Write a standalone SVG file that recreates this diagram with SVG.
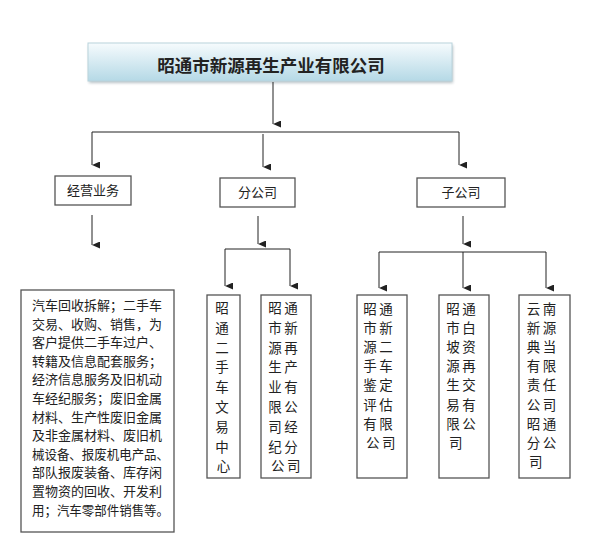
<svg xmlns="http://www.w3.org/2000/svg" width="594" height="542" viewBox="0 0 594 542">
<style>
.box{fill:#fff;stroke:#555;stroke-width:1.3}
.t{font-family:"Noto Sans CJK SC","Noto Sans",sans-serif;fill:#222}
.s13{font-size:13px}
.v{font-size:13.5px;text-anchor:middle}
.c{stroke:#222;stroke-width:1;fill:none}
</style>
<defs>
<linearGradient id="g" x1="0" y1="0" x2="0" y2="1">
<stop offset="0" stop-color="#f6fbfd"/>
<stop offset="1" stop-color="#b5d9e6"/>
</linearGradient>
<filter id="sh" x="-5%" y="-20%" width="110%" height="160%">
<feGaussianBlur stdDeviation="1.5"/>
</filter>
<marker id="a" viewBox="0 0 7 8" refX="3.5" refY="8" markerWidth="7" markerHeight="8" markerUnits="userSpaceOnUse" orient="auto-start-reverse">
<path d="M0,0 L7,0 L3.5,8 Z" fill="#222"/>
</marker>
</defs>
<rect width="594" height="542" fill="#fff"/>

<g id="title">
<rect x="89" y="45" width="364" height="38" fill="#8a9aa0" opacity="0.6" filter="url(#sh)"/>
<rect x="88" y="43" width="364" height="38" fill="url(#g)" stroke="#b9d3dc" stroke-width="1"/>
<text class="t" x="271" y="72" font-size="17.5" font-weight="bold" text-anchor="middle">昭通市新源再生产业有限公司</text>
</g>

<g id="connectors">
<path class="c" d="M273,82 V124" marker-end="url(#a)"/>
<path class="c" d="M92,132 H459"/>
<path class="c" d="M92,132 V165" marker-end="url(#a)"/>
<path class="c" d="M263,134 V167" marker-end="url(#a)"/>
<path class="c" d="M459,132 V165" marker-end="url(#a)"/>
<path class="c" d="M92,215 V245" marker-end="url(#a)"/>
<path class="c" d="M258,216 V244" marker-end="url(#a)"/>
<path class="c" d="M225,249 H290"/>
<path class="c" d="M225,249 V286" marker-end="url(#a)"/>
<path class="c" d="M290,249 V286" marker-end="url(#a)"/>
<path class="c" d="M463,216 V244" marker-end="url(#a)"/>
<path class="c" d="M379,252 H546"/>
<path class="c" d="M379,252 V288" marker-end="url(#a)"/>
<path class="c" d="M463,252 V288" marker-end="url(#a)"/>
<path class="c" d="M546,252 V288" marker-end="url(#a)"/>
</g>

<g id="jingying">
<rect class="box" x="55" y="176" width="76" height="29"/>
<text class="t s13" x="93" y="195" text-anchor="middle">经营业务</text>
</g>
<g id="fengongsi">
<rect class="box" x="220" y="178" width="75" height="29"/>
<text class="t s13" x="257.5" y="197" text-anchor="middle">分公司</text>
</g>
<g id="zigongsi">
<rect class="box" x="417" y="178" width="88" height="29"/>
<text class="t s13" x="461" y="197" text-anchor="middle">子公司</text>
</g>

<g id="business">
<rect class="box" x="21" y="290" width="153" height="242"/>
<text class="t s13" x="32" y="310">汽车回收拆解；二手车</text>
<text class="t s13" x="32" y="328.6">交易、收购、销售，为</text>
<text class="t s13" x="32" y="347.2">客户提供二手车过户、</text>
<text class="t s13" x="32" y="365.8">转籍及信息配套服务；</text>
<text class="t s13" x="32" y="384.4">经济信息服务及旧机动</text>
<text class="t s13" x="32" y="403">车经纪服务；废旧金属</text>
<text class="t s13" x="32" y="421.6">材料、生产性废旧金属</text>
<text class="t s13" x="32" y="440.2">及非金属材料、废旧机</text>
<text class="t s13" x="32" y="458.8" textLength="137" lengthAdjust="spacingAndGlyphs">械设备、报废机电产品、</text>
<text class="t s13" x="32" y="477.4">部队报废装备、库存闲</text>
<text class="t s13" x="32" y="496">置物资的回收、开发利</text>
<text class="t s13" x="32" y="514.6" textLength="137" lengthAdjust="spacingAndGlyphs">用；汽车零部件销售等。</text>
</g>

<g id="b1">
<rect class="box" x="207" y="295" width="33" height="183"/>
<text class="t v">
<tspan x="223.5" y="313">昭</tspan>
<tspan x="223.5" y="332.8">通</tspan>
<tspan x="223.5" y="352.6">二</tspan>
<tspan x="223.5" y="372.4">手</tspan>
<tspan x="223.5" y="392.2">车</tspan>
<tspan x="223.5" y="412">文</tspan>
<tspan x="223.5" y="431.8">易</tspan>
<tspan x="223.5" y="451.6">中</tspan>
<tspan x="223.5" y="471.4">心</tspan>
</text>
</g>
<g id="b2">
<rect class="box" x="261" y="295" width="50" height="183"/>
<text class="t v" letter-spacing="2.5">
<tspan x="287" y="313">昭通</tspan>
<tspan x="287" y="332.8">市新</tspan>
<tspan x="287" y="352.6">源再</tspan>
<tspan x="287" y="372.4">生产</tspan>
<tspan x="287" y="392.2">业有</tspan>
<tspan x="287" y="412">限公</tspan>
<tspan x="287" y="431.8">司经</tspan>
<tspan x="287" y="451.6">纪分</tspan>
<tspan x="287" y="471.4">公司</tspan>
</text>
</g>

<g id="s1">
<rect class="box" x="357" y="295" width="50" height="183"/>
<text class="t v" letter-spacing="2.5">
<tspan x="382" y="314">昭通</tspan>
<tspan x="382" y="333.1">市新</tspan>
<tspan x="382" y="352.2">源二</tspan>
<tspan x="382" y="371.3">手车</tspan>
<tspan x="382" y="390.4">鉴定</tspan>
<tspan x="382" y="409.5">评估</tspan>
<tspan x="382" y="428.6">有限</tspan>
<tspan x="382" y="447.7">公司</tspan>
</text>
</g>
<g id="s2">
<rect class="box" x="439" y="295" width="50" height="183"/>
<text class="t v" letter-spacing="2.5">
<tspan x="465" y="314">昭通</tspan>
<tspan x="465" y="333.1">市白</tspan>
<tspan x="465" y="352.2">坡资</tspan>
<tspan x="465" y="371.3">源再</tspan>
<tspan x="465" y="390.4">生交</tspan>
<tspan x="465" y="409.5">易有</tspan>
<tspan x="465" y="428.6">限公</tspan>
<tspan x="457" y="447.7">司</tspan>
</text>
</g>
<g id="s3">
<rect class="box" x="519" y="295" width="51" height="183"/>
<text class="t v" letter-spacing="2.5">
<tspan x="545.5" y="314">云南</tspan>
<tspan x="545.5" y="333.1">新源</tspan>
<tspan x="545.5" y="352.2">典当</tspan>
<tspan x="545.5" y="371.3">有限</tspan>
<tspan x="545.5" y="390.4">责任</tspan>
<tspan x="545.5" y="409.5">公司</tspan>
<tspan x="545.5" y="428.6">昭通</tspan>
<tspan x="545.5" y="447.7">分公</tspan>
<tspan x="537" y="466.8">司</tspan>
</text>
</g>
</svg>
